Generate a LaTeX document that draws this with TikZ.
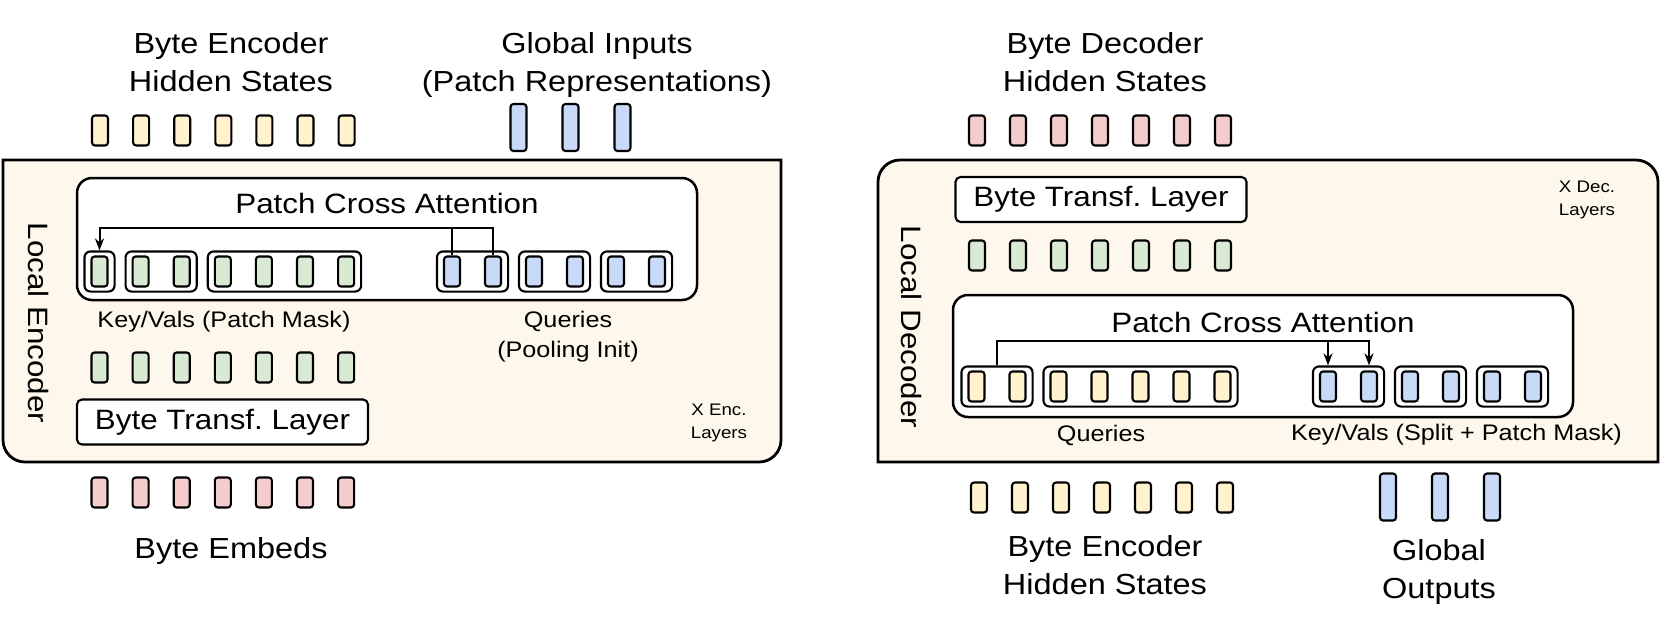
\documentclass[tikz,border=0pt]{standalone}
\usepackage{fontspec}
\setmainfont[FakeStretch=1.12]{Liberation Sans}
\frenchspacing
\usetikzlibrary{arrows.meta, positioning, fit, calc, math}
\definecolor{bgcream}{HTML}{FEF8EC}
\definecolor{cellylw}{HTML}{FFF2CC}
\definecolor{cellgrn}{HTML}{D9EAD3}
\definecolor{cellblu}{HTML}{C9DAF8}
\definecolor{cellpnk}{HTML}{F4CCCC}

\tikzset{
  cell/.style={draw, line width=2.1pt, rounded corners=3pt, minimum width=16pt, minimum height=30pt, inner sep=0pt},
  tallcell/.style={cell, minimum height=47pt},
  grp/.style={draw, line width=2.1pt, rounded corners=6pt, inner xsep=6pt, inner ysep=4pt},
  panel/.style={draw, line width=2.5pt, fill=white, rounded corners=15pt, minimum width=620pt, minimum height=122pt},
  layerbox/.style={draw, line width=2.1pt, fill=white, rounded corners=5pt, minimum width=291pt, minimum height=45pt, font=\fontsize{28}{34}\selectfont},
  bigtxt/.style={font=\fontsize{29}{38}\selectfont, align=center},
  titletxt/.style={font=\fontsize{28}{34}\selectfont},
  midtxt/.style={font=\fontsize{22.5}{30}\selectfont, align=center},
  smalltxt/.style={font=\fontsize{16.7}{23}\selectfont, align=center},
  link/.style={line width=2pt},
  tip/.style={-{Stealth[length=12pt, width=9pt]}},
}

\begin{document}
\begin{tikzpicture}[x=1pt,y=-1pt]
\tikzmath{
\dx=41.1;% byte spacing
\gx=52;% patch spacing
}
\useasboundingbox (0,0) rectangle (1661,638);

%local encoder frame
\draw[line width=2.8pt, fill=bgcream] (3,300) -- (3,160) -- (781,160) -- (781,300) [rounded corners=22pt] -- (781,462) -- (3,462) -- cycle;
\node[panel] (epca) at (387,239) {};
\node[titletxt, anchor=base] (etitle) at (387,213) {Patch Cross Attention};
\node[layerbox] (etl) at (222.5,422) {Byte Transf. Layer};

%encoder bytes
\foreach \i in {1,...,7}{
  \node[cell, fill=cellylw] (ehid\i) at ({100+\dx*(\i-1)},130.5) {};
  \node[cell, fill=cellgrn] (ekv\i) at ({99.5+\dx*(\i-1)},271.5) {};
  \node[cell, fill=cellgrn] (eout\i) at ({99.5+\dx*(\i-1)},367.5) {};
  \node[cell, fill=cellpnk] (emb\i) at ({99.5+\dx*(\i-1)},492.5) {};
}
\foreach \i in {1,...,6}
  \node[cell, fill=cellblu] (eq\i) at ({452+41*(\i-1)},271.5) {};
\foreach \i in {1,2,3}
  \node[tallcell, fill=cellblu] (gin\i) at ({518.5+\gx*(\i-1)},127.5) {};

%patches
\node[grp, fit=(ekv1)] (eg1) {};
\node[grp, fit=(ekv2)(ekv3)] (eg2) {};
\node[grp, fit=(ekv4)(ekv7)] (eg3) {};
\node[grp, fit=(eq1)(eq2)] (eg4) {};
\node[grp, fit=(eq3)(eq4)] (eg5) {};
\node[grp, fit=(eq5)(eq6)] (eg6) {};

\coordinate (ebus) at (0,228);
\draw[link, tip] (eq1.north) -- (eq1.north |- ebus) -| (eg1.north);
\draw[link] (eq2.north) |- (eq1.north |- ebus);

\node[bigtxt] (ehidlbl) at (231,62) {Byte Encoder\\Hidden States};
\node[bigtxt] (ginlbl) at (597,65) {Global Inputs\\(Patch Representations)};
\node[midtxt] (ekvlbl) at (224,322) {Key/Vals (Patch Mask)};
\node[midtxt] (eqlbl) at (568,337) {Queries\\(Pooling Init)};
\node[smalltxt] (elayers) at (719,423) {X Enc.\\Layers};
\node[titletxt, rotate=-90] (elocal) at (39,323) {Local Encoder};
\node[bigtxt] (emblbl) at (231,551) {Byte Embeds};

%local decoder frame
\draw[line width=2.8pt, fill=bgcream] (878,300) [rounded corners=22pt] -- (878,160) -- (1658,160) -- (1658,300) [sharp corners] -- (1658,462) -- (878,462) -- cycle;
\node[layerbox] (dtl) at (1101,199.5) {Byte Transf. Layer};
\node[panel] (dpca) at (1263,356) {};
\node[titletxt, anchor=base] (dtitle) at (1263,332) {Patch Cross Attention};

%decoder bytes
\foreach \i in {1,...,7}{
  \node[cell, fill=cellpnk] (dhid\i) at ({977+41*(\i-1)},130.5) {};
  \node[cell, fill=cellgrn] (dout\i) at ({977+41*(\i-1)},255.5) {};
  \node[cell, fill=cellylw] (dq\i) at ({976.5+41*(\i-1)},386.5) {};
  \node[cell, fill=cellylw] (denc\i) at ({979+41*(\i-1)},497.5) {};
}
\foreach \i in {1,...,6}
  \node[cell, fill=cellblu] (dkv\i) at ({1328+41*(\i-1)},386.5) {};
\foreach \i in {1,2,3}
  \node[tallcell, fill=cellblu] (gout\i) at ({1388+\gx*(\i-1)},497) {};

%patches
\node[grp, fit=(dq1)(dq2)] (dg1) {};
\node[grp, fit=(dq3)(dq7)] (dg2) {};
\node[grp, fit=(dkv1)(dkv2)] (dg3) {};
\node[grp, fit=(dkv3)(dkv4)] (dg4) {};
\node[grp, fit=(dkv5)(dkv6)] (dg5) {};

\coordinate (dbus) at (0,341);
\draw[link, tip] (dg1.north) -- (dg1.north |- dbus) -| (dkv2.north |- dg3.north);
\draw[link, tip] (dkv1.north |- dbus) -- (dkv1.north |- dg3.north);

\node[bigtxt] (dhidlbl) at (1105,62) {Byte Decoder\\Hidden States};
\node[midtxt] (dqlbl) at (1101,435) {Queries};
\node[midtxt] (dkvlbl) at (1456.5,435) {Key/Vals (Split + Patch Mask)};
\node[smalltxt] (dlayers) at (1587,200) {X Dec.\\Layers};
\node[titletxt, rotate=-90] (dlocal) at (911,327) {Local Decoder};
\node[bigtxt] (denclbl) at (1105,565) {Byte Encoder\\Hidden States};
\node[bigtxt] (goutlbl) at (1439,572) {Global\\Outputs};
\end{tikzpicture}
\end{document}
